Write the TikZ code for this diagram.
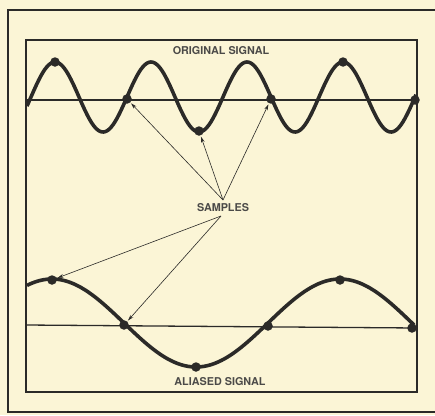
\documentclass[tikz,border=0pt]{standalone}
\usepackage{fontspec}
\setmainfont{TeX Gyre Heros}
\usetikzlibrary{arrows.meta}
\definecolor{paper}{HTML}{FBF5D6}
\definecolor{ink}{HTML}{2B2A28}
\tikzset{
  frame/.style={draw=ink, line width=1.6pt},
  axis/.style={draw=ink, line width=1.3pt},
  wave/.style={draw=ink, line width=3.6pt, line join=round},
  dot/.style={circle, fill=ink, inner sep=0pt, minimum size=9.5pt},
  lbl/.style={font=\bfseries\fontsize{10.8}{12}\selectfont, text=ink!85},
  ptr/.style={draw=ink, line width=0.6pt, -{Stealth[length=6pt,width=3.5pt]}, shorten >=1pt}
}
\begin{document}
\begin{tikzpicture}[x=1pt,y=-1pt]
\fill[paper] (0,0) rectangle (435,415);
\useasboundingbox (0,0) rectangle (435,415);
% frames
\draw[frame] (435,10) -- (8,10) -- (8,412) -- (435,412);
\draw[frame] (26,40) rectangle (417,392);
% axes
\draw[axis] (26,100) -- (417,100);
\draw[axis] (26,325) -- (417,328);
% original signal
\draw[wave] plot[domain=27:416, samples=240, smooth] (\x,{97-35*cos(3.75*(\x-55))});
% aliased signal
\draw[wave] plot[domain=27:414, samples=160, smooth] (\x,{323-44*cos(1.25*(\x-52))});
% samples on original
\node[dot] (t1) at (55,62) {};
\node[dot] (t2) at (127,99) {};
\node[dot] (t3) at (199,131) {};
\node[dot] (t4) at (271,99) {};
\node[dot] (t5) at (343,62) {};
\node[dot] (t6) at (415,100) {};
% samples on aliased
\node[dot] (a1) at (52,280) {};
\node[dot] (a2) at (124,325) {};
\node[dot] (a3) at (196,367) {};
\node[dot] (a4) at (268,326) {};
\node[dot] (a5) at (340,280) {};
\node[dot] (a6) at (412,328) {};
% labels
\node[lbl] (orig) at (221,51) {ORIGINAL SIGNAL};
\node[lbl] (samp) at (223,208) {SAMPLES};
\node[lbl] (alias) at (220,382) {ALIASED SIGNAL};
% pointers
\coordinate (sn) at (223,200);
\coordinate (ss) at (221,216);
\draw[ptr] (sn) -- (t2);
\draw[ptr] (sn) -- (t3);
\draw[ptr] (sn) -- (t4);
\draw[ptr] (ss) -- (a1);
\draw[ptr] (ss) -- (a2);
\end{tikzpicture}
\end{document}
